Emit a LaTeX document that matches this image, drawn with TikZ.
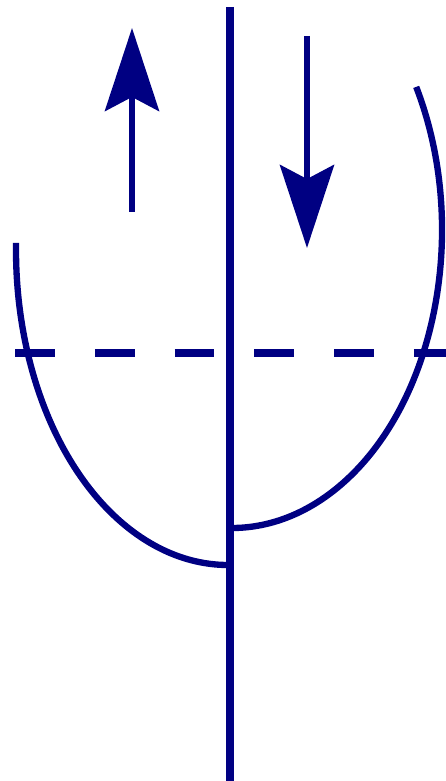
\documentclass[tikz,border=0pt]{standalone}
\usepackage{tikz}
\usetikzlibrary{arrows.meta, calc}
\definecolor{navyline}{RGB}{0,0,130}
\tikzset{
  axis/.style={
    draw=navyline,
    line width=4pt
  },
  level/.style={
    draw=navyline,
    line width=5pt,
    dash pattern=on 22.7pt off 22.7pt,
    dash phase=0pt
  },
  curve/.style={
    draw=navyline,
    line width=3.6pt
  },
  flow/.style={
    draw=navyline,
    line width=3.6pt,
    -{Stealth[length=1.66cm, width=1.08cm, inset=0.28cm, fill=navyline]}
  }
}
\begin{document}
\begin{tikzpicture}[x=0.02cm, y=0.02cm]
  \useasboundingbox (0,0) rectangle (446,781);

  % axis and level
  \coordinate (axtop) at (230,774);
  \coordinate (axbot) at (230,0);
  \coordinate (lvlleft) at (15,428);
  \coordinate (lvlright) at (446,428);
  \draw[level] (lvlleft) -- (lvlright);
  \draw[axis] (axtop) -- (axbot);

  % the two curves
  \coordinate (leftstart) at ($(228,531)+(178.7:212 and 315)$);
  \coordinate (rightstart) at ($(232,551)+(28.7:210 and 298)$);
  \draw[curve] (leftstart) arc[start angle=178.7, end angle=270, x radius=212, y radius=315];
  \draw[curve] (rightstart) arc[start angle=28.7, end angle=-90, x radius=210, y radius=298];

  % up and down arrows
  \coordinate (uptail) at (132,569);
  \coordinate (uptip) at (132,753);
  \coordinate (downtail) at (307,745);
  \coordinate (downtip) at (307,533);
  \draw[flow] (uptail) -- (uptip);
  \draw[flow] (downtail) -- (downtip);
\end{tikzpicture}
\end{document}
